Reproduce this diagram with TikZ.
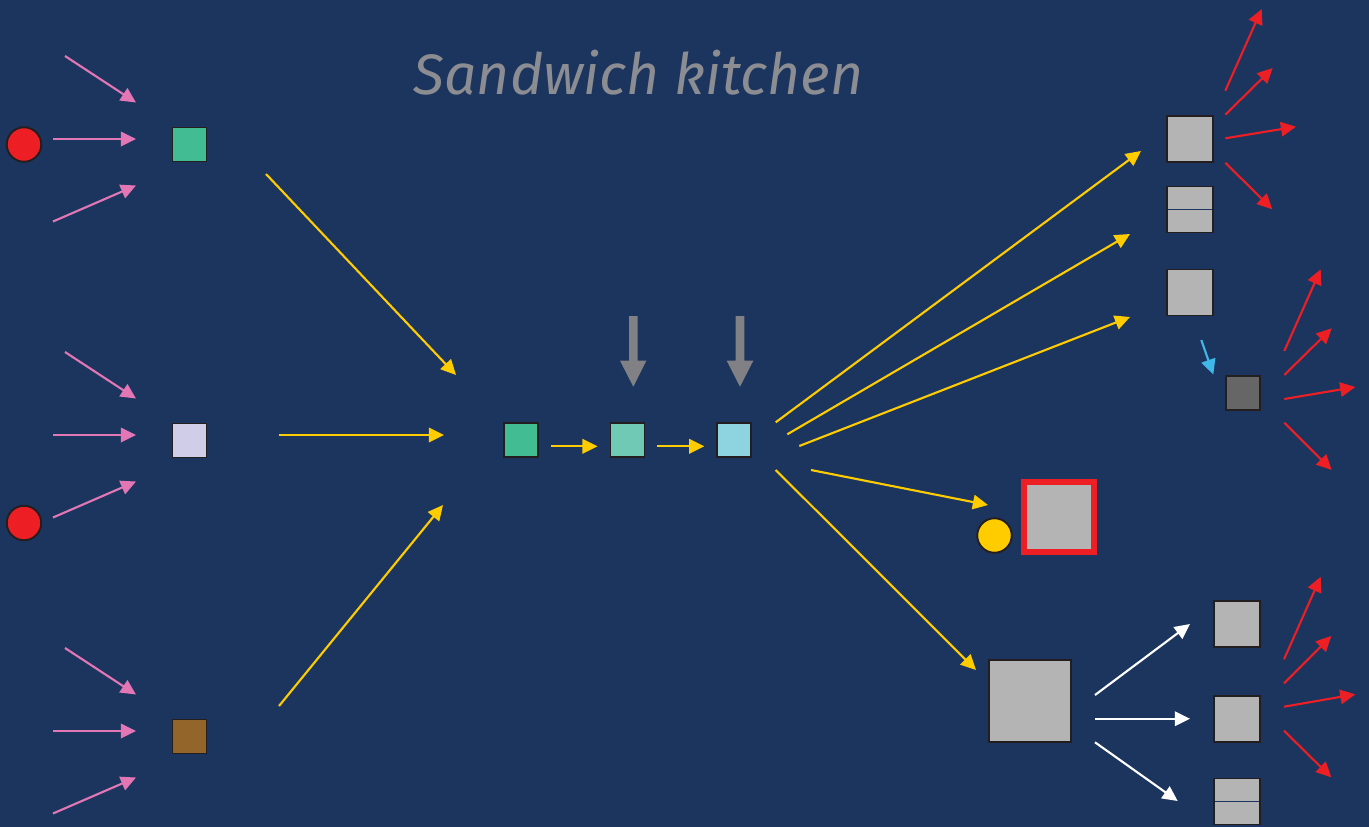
\documentclass[tikz,border=0pt]{standalone}
\usepackage{fontspec}
\newfontfamily\titlefont{Fira Sans}
\usetikzlibrary{arrows.meta}
\definecolor{bg}{RGB}{28,53,94}
\definecolor{outline}{RGB}{35,31,32}
\definecolor{pinkarr}{RGB}{227,119,181}
\definecolor{yel}{RGB}{255,204,0}
\definecolor{redc}{RGB}{237,30,36}
\definecolor{boxgray}{RGB}{180,180,181}
\definecolor{darkgray}{RGB}{102,102,102}
\definecolor{titlegray}{RGB}{140,141,146}
\definecolor{arrowgray}{RGB}{128,128,133}
\definecolor{cyanarr}{RGB}{63,183,232}
\definecolor{greenA}{RGB}{65,188,147}
\definecolor{greenB}{RGB}{111,201,181}
\definecolor{blueC}{RGB}{141,211,224}
\definecolor{lav}{RGB}{207,205,232}
\definecolor{brown}{RGB}{148,101,42}
\begin{document}
\begin{tikzpicture}[x=0.01cm,y=-0.01cm,
  box/.style={rectangle,draw=outline,line width=0.55pt,inner sep=0pt,minimum size=0.34cm},
  gbox/.style={box,fill=boxgray,minimum size=0.46cm},
  striped/.style={path picture={\draw[bg,line width=0.45pt] (path picture bounding box.west) -- (path picture bounding box.east);}},
  dot/.style={circle,draw=outline,line width=0.55pt,inner sep=0pt,minimum size=0.345cm},
  arr/.style={-{Triangle[length=4.3pt,width=4.1pt]},line width=0.6pt},
  parr/.style={arr,pinkarr},
  yarr/.style={arr,yel},
  rarr/.style={arr,redc},
  warr/.style={arr,white},
  carr/.style={arr,cyanarr},
]
\fill[bg] (0,0) rectangle (1369,827);
\useasboundingbox (0,0) rectangle (1369,827);

% title
\node[anchor=base,text=titlegray,font=\titlefont\itshape\fontsize{16.2pt}{19pt}\selectfont,inner sep=0pt] (title) at (638.5,94) {Sandwich kitchen};

% left side
\node[dot,fill=redc] (red1) at (24,144.5) {};
\node[dot,fill=redc] (red2) at (24,523) {};
\node[box,fill=greenA] (L1) at (189.5,144.5) {};
\node[box,fill=lav] (L2) at (189.5,440.5) {};
\node[box,fill=brown] (L3) at (189.5,736.5) {};

\foreach \g/\d in {a/0,b/296,c/592}{
  \coordinate (p\g1s) at (65,56+\d);   \coordinate (p\g1e) at (136,102.5+\d);
  \coordinate (p\g2s) at (53,139+\d);  \coordinate (p\g2e) at (136,139+\d);
  \coordinate (p\g3s) at (53,221.5+\d);\coordinate (p\g3e) at (136,185.5+\d);
  \draw[parr] (p\g1s) -- (p\g1e);
  \draw[parr] (p\g2s) -- (p\g2e);
  \draw[parr] (p\g3s) -- (p\g3e);
}

% yellow arrows to the middle
\coordinate (y1s) at (266,174);   \coordinate (y1e) at (456,375);
\coordinate (y2s) at (279,435);   \coordinate (y2e) at (444,435);
\coordinate (y3s) at (279,706);   \coordinate (y3e) at (443,505);
\draw[yarr] (y1s) -- (y1e);
\draw[yarr] (y2s) -- (y2e);
\draw[yarr] (y3s) -- (y3e);

% middle
\node[box,fill=greenA] (M1) at (521,440.3) {};
\node[box,fill=greenB] (M2) at (627.5,440.3) {};
\node[box,fill=blueC] (M3) at (734.3,440.3) {};
\draw[yarr] ([xshift=0.12cm,yshift=-0.06cm]M1.east) -- ([xshift=-0.12cm,yshift=-0.06cm]M2.west);
\draw[yarr] ([xshift=0.12cm,yshift=-0.06cm]M2.east) -- ([xshift=-0.12cm,yshift=-0.06cm]M3.west);

% grey downward arrows
\fill[arrowgray] (629,316) -- (637.7,316) -- (637.7,360.7) -- (646.3,360.7) -- (633.3,386.7) -- (620,360.7) -- (629,360.7) -- cycle;
\fill[arrowgray] (735.7,316) -- (744.3,316) -- (744.3,360.7) -- (753.3,360.7) -- (740,386.7) -- (726.7,360.7) -- (735.7,360.7) -- cycle;

% yellow arrows to the right
\coordinate (r1s) at (775.7,422.3); \coordinate (r1e) at (1141,151);
\coordinate (r2s) at (787.3,434.3); \coordinate (r2e) at (1130,234);
\coordinate (r3s) at (799.3,446);   \coordinate (r3e) at (1130,317);
\coordinate (r4s) at (811,470);     \coordinate (r4e) at (988,505);
\coordinate (r5s) at (775.7,470);   \coordinate (r5e) at (976,670);
\foreach \i in {1,...,5}{\draw[yarr] (r\i s) -- (r\i e);}

% right top boxes
\node[gbox] (A) at (1189.7,138.7) {};
\node[gbox,striped] (B) at (1189.7,209.5) {};
\node[gbox] (C) at (1189.7,292.5) {};
\node[box,fill=darkgray] (D) at (1243,393.3) {};
\coordinate (cs) at (1201.3,340); \coordinate (ce) at (1213.3,374.5);
\draw[carr] (cs) -- (ce);

% yellow circle and red-framed box
\node[dot,fill=yel,minimum size=0.345cm] (ydot) at (994.5,535.5) {};
\node[rectangle,draw=redc,line width=1.7pt,fill=boxgray,minimum size=0.70cm,inner sep=0pt] (framed) at (1059.3,517.3) {};

% big box and outputs
\node[box,fill=boxgray,minimum size=0.82cm] (big) at (1030,701) {};
\node[gbox] (E1) at (1237.2,623.8) {};
\node[gbox] (E2) at (1237.2,718.7) {};
\node[gbox,striped] (E3) at (1237.2,801.5) {};
\coordinate (w1s) at (1095,695);   \coordinate (w1e) at (1190,624);
\coordinate (w2s) at (1095,718.7); \coordinate (w2e) at (1190,718.7);
\coordinate (w3s) at (1095,742.3); \coordinate (w3e) at (1177.7,801);
\foreach \i in {1,2,3}{\draw[warr] (w\i s) -- (w\i e);}

% red fans
\coordinate (fa1s) at (1225.3,90.7);  \coordinate (fa1e) at (1261.7,9);
\coordinate (fa2s) at (1225.3,114.7); \coordinate (fa2e) at (1272.7,68);
\coordinate (fa3s) at (1225.3,138.3); \coordinate (fa3e) at (1296,126.7);
\coordinate (fa4s) at (1225.3,162.7); \coordinate (fa4e) at (1272.3,209.3);
\coordinate (fb1s) at (1284.3,351);   \coordinate (fb1e) at (1320.7,269.3);
\coordinate (fb2s) at (1284.3,375);   \coordinate (fb2e) at (1331.7,328.3);
\coordinate (fb3s) at (1284.3,399);   \coordinate (fb3e) at (1355.3,387);
\coordinate (fb4s) at (1284.3,422.7); \coordinate (fb4e) at (1331.7,470);
\coordinate (fc1s) at (1284,659.3);   \coordinate (fc1e) at (1320.7,576.7);
\coordinate (fc2s) at (1284,683.3);   \coordinate (fc2e) at (1331.3,636);
\coordinate (fc3s) at (1284,706.7);   \coordinate (fc3e) at (1355.3,694.3);
\coordinate (fc4s) at (1284,730.7);   \coordinate (fc4e) at (1331.3,777.3);
\foreach \g in {a,b,c}{\foreach \i in {1,...,4}{\draw[rarr] (f\g\i s) -- (f\g\i e);}}
\end{tikzpicture}
\end{document}
